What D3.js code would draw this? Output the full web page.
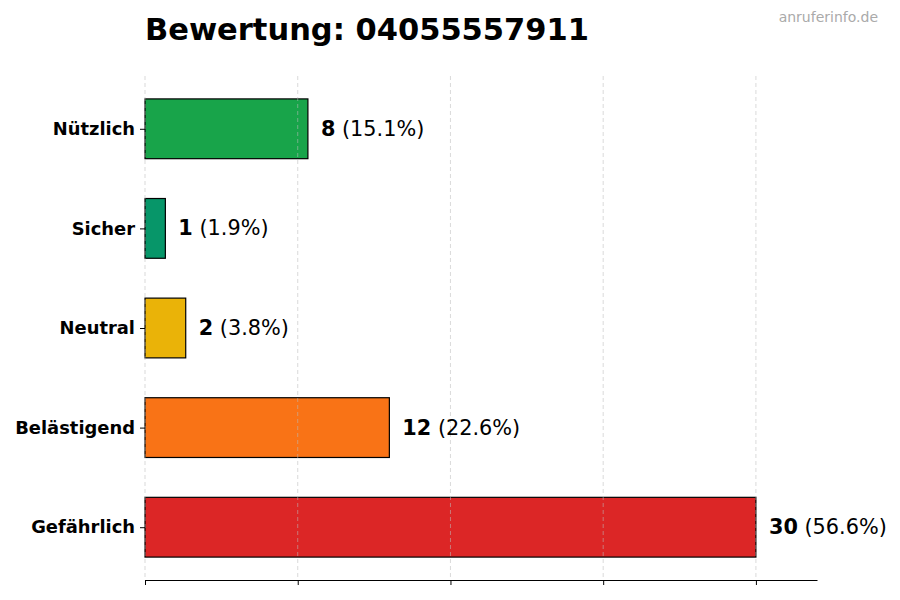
<!DOCTYPE html>
<html><head><meta charset="utf-8">
<script src="https://cdn.jsdelivr.net/npm/d3@7"></script>
<style>body{margin:0;background:#fff}svg{display:block}</style>
</head><body>
<svg id="c" width="900" height="600"></svg>
<script>
const categories = ["Nützlich","Sicher","Neutral","Belästigend","Gefährlich"];
const values = [8,1,2,12,30];
const percents = ["15.1%","1.9%","3.8%","22.6%","56.6%"];
const colors = ["#18a44a","#079669","#eab308","#f97316","#dc2626"];
const xTicks = [0,7.5,15,22.5,30];
const title = "Bewertung: 04055557911";
const watermark = "anruferinfo.de";

(function(){
const svg = d3.select("#c");
const font = "DejaVu Sans, sans-serif";
const mL = 145, mR = 817, mT = 76, mB = 580;
const x = d3.scaleLinear().domain([0, 33]).range([mL, mR]);
const y = d3.scaleLinear().domain([-0.53, 4.53]).range([mT, mB]);
const barH = y(0.3) - y(-0.3);

svg.selectAll("rect.bar").data(values).join("rect")
  .attr("class","bar")
  .attr("x", x(0))
  .attr("y", (d,i)=>y(i)-barH/2)
  .attr("width", d=>x(d)-x(0))
  .attr("height", barH)
  .attr("fill", (d,i)=>colors[i])
  .attr("stroke","#000").attr("stroke-width",1.2);

svg.selectAll("line.grid").data(xTicks).join("line")
  .attr("class","grid")
  .attr("x1", d=>x(d)).attr("x2", d=>x(d))
  .attr("y1", mT).attr("y2", mB)
  .attr("stroke","#bbb").attr("stroke-opacity",0.55)
  .attr("stroke-dasharray","4,3").attr("stroke-width",1);

const xAxis = d3.axisBottom(x).tickValues(xTicks).tickFormat("").tickSize(5).tickSizeOuter(0);
const gx = svg.append("g").attr("transform",`translate(0,${mB})`).call(xAxis);
gx.select(".domain").attr("stroke","#000").attr("stroke-width",1.2);
gx.selectAll(".tick line").attr("stroke","#000").attr("stroke-width",1);

const yAxis = d3.axisLeft(y).tickValues(d3.range(categories.length)).tickFormat(i=>categories[i]).tickSize(5).tickPadding(5);
const gy = svg.append("g").attr("transform",`translate(${mL},0)`).call(yAxis);
gy.select(".domain").remove();
gy.selectAll(".tick line").attr("stroke","#000");
gy.selectAll(".tick text").attr("font-family",font).attr("font-weight","bold")
  .attr("font-size","17.9px").attr("fill","#000");

const lbl = svg.selectAll("text.val").data(values).join("text")
  .attr("class","val")
  .attr("x", d=>x(d)+13)
  .attr("y", (d,i)=>y(i))
  .attr("dy","0.34em")
  .attr("font-family",font).attr("font-size","20.8px").attr("fill","#000");
lbl.append("tspan").attr("font-weight","bold").text(d=>d);
lbl.append("tspan").text((d,i)=>" ("+percents[i]+")");

svg.append("text").attr("x",mL).attr("y",40)
  .attr("font-family",font).attr("font-weight","bold").attr("font-size","30.5px")
  .attr("fill","#000").text(title);

svg.append("text").attr("x",878).attr("y",22).attr("text-anchor","end")
  .attr("font-family",font).attr("font-size","14px").attr("fill","#aaa").text(watermark);
})();
</script>
</body></html>
